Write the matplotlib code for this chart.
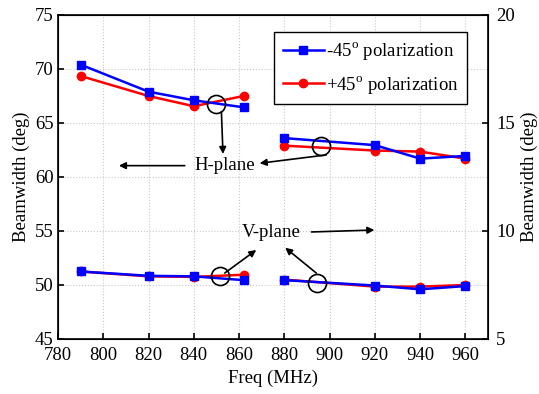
import matplotlib
matplotlib.use("Agg")
import matplotlib.pyplot as plt

plt.rcParams['font.family'] = ['Liberation Serif', 'DejaVu Serif']
plt.rcParams['mathtext.fontset'] = 'custom'
plt.rcParams['mathtext.rm'] = 'Liberation Serif'
plt.rcParams['font.size'] = 13.5

# frequencies of the two bands (MHz)
freq_low = [790, 820, 840, 862]
freq_high = [880, 920, 940, 960]

# H-plane beamwidth (deg)
h_m45_low = [70.4, 67.9, 67.1, 66.45]
h_m45_high = [63.6, 62.95, 61.7, 61.95]
h_p45_low = [69.35, 67.5, 66.55, 67.5]
h_p45_high = [62.9, 62.45, 62.35, 61.7]

# V-plane beamwidth (deg)
v_m45_low = [51.25, 50.85, 50.8, 50.45]
v_m45_high = [50.45, 49.95, 49.6, 49.9]
v_p45_low = [51.25, 50.8, 50.75, 50.95]
v_p45_high = [50.5, 49.85, 49.85, 50.0]

fig = plt.figure(figsize=(5.39, 3.94), dpi=100)
ax = fig.add_axes([0.1076, 0.1396, 0.7978, 0.8224])

lw = 1.8
ms = 6
# red first, blue on top
for xs, ys in [(freq_low, h_p45_low), (freq_high, h_p45_high),
               (freq_low, v_p45_low), (freq_high, v_p45_high)]:
    ax.plot(xs, ys, color='red', marker='o', lw=lw, ms=ms, zorder=3)
for xs, ys in [(freq_low, h_m45_low), (freq_high, h_m45_high),
               (freq_low, v_m45_low), (freq_high, v_m45_high)]:
    ax.plot(xs, ys, color='blue', marker='s', lw=lw, ms=ms, zorder=4)

# legend handles
hb, = ax.plot([], [], color='blue', marker='s', lw=lw, ms=ms)
hr, = ax.plot([], [], color='red', marker='o', lw=lw, ms=ms)
leg = ax.legend([hb, hr], [r'-45$^{\mathrm{o}}$ polarization', r'+45$^{\mathrm{o}}$ polarization'],
                loc='upper right', bbox_to_anchor=(0.951, 0.948), fancybox=False,
                edgecolor='black', framealpha=1, handlelength=2.2, borderpad=0.45,
                labelspacing=0.6, handletextpad=0.1, borderaxespad=0)
leg.get_frame().set_linewidth(1.0)

ax.set_xlim(780, 970)
ax.set_ylim(45, 75)
ax.set_xticks(range(780, 961, 20))
ax.set_yticks(range(45, 76, 5))
ax.grid(True, color='#c8c8c8', linestyle=':', linewidth=0.8)
ax.set_xlabel('Freq (MHz)', labelpad=4)
ax.set_ylabel('Beamwidth (deg)', labelpad=4)
ax.tick_params(direction='in', length=4, width=1.2, pad=3)
ax.tick_params(axis='x', pad=6)
for s in ax.spines.values():
    s.set_linewidth(1.2)

ax2 = ax.twinx()
ax2.set_ylim(5, 20)
ax2.set_yticks([5, 10, 15, 20])
ax2.set_ylabel('Beamwidth (deg)', labelpad=4)
ax2.tick_params(direction='in', length=4, width=1.2, pad=6)

# circles around the curves
for cx, cy in [(849.9, 66.73), (896.3, 62.87), (851.5, 50.83), (894.6, 50.21)]:
    ax.plot(cx, cy, marker='o', ms=13, mfc='none', mec='black', mew=1.2, zorder=6)

arrow = dict(arrowstyle='-|>', color='black', lw=1.2, mutation_scale=10, shrinkA=0, shrinkB=0)
ax.text(853.7, 61.05, 'H-plane', ha='center', va='center')
ax.annotate('', xy=(806.9, 61.05), xytext=(836.0, 61.05), arrowprops=arrow)
ax.annotate('', xy=(852.9, 62.13), xytext=(852.2, 66.05), arrowprops=arrow)
ax.annotate('', xy=(869.1, 61.27), xytext=(898.5, 62.04), arrowprops=arrow)

ax.text(874.0, 54.88, 'V-plane', ha='center', va='center')
ax.annotate('', xy=(919.8, 55.09), xytext=(892.0, 54.91), arrowprops=arrow)
ax.annotate('', xy=(867.6, 53.24), xytext=(853.7, 51.11), arrowprops=arrow)
ax.annotate('', xy=(880.4, 53.45), xytext=(894.1, 51.11), arrowprops=arrow)

fig.savefig('out.png', dpi=100)
